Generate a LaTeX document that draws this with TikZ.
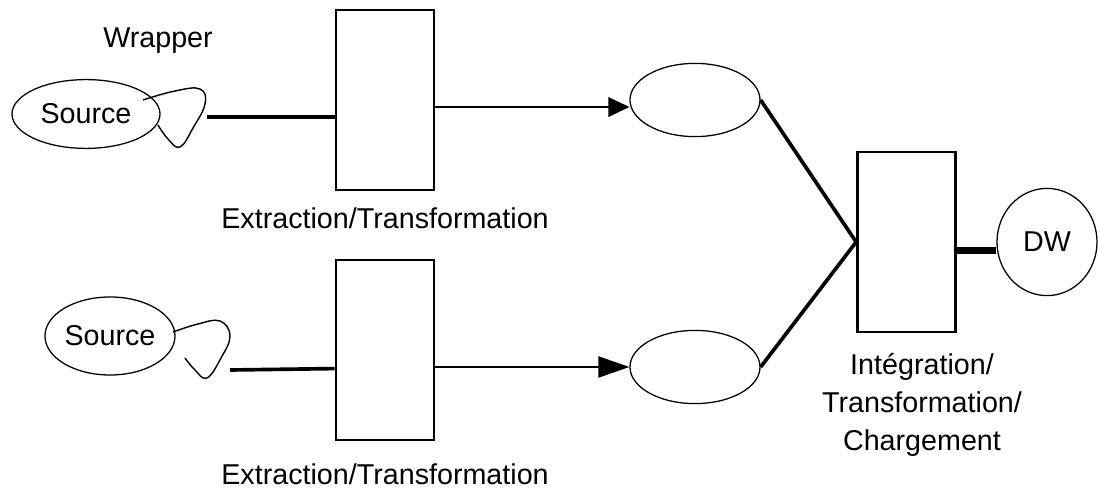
\documentclass[tikz,border=0pt]{standalone}
\usepackage{fontspec}
\setmainfont{Liberation Sans}
\usetikzlibrary{shapes.geometric,arrows.meta}

\tikzset{
	every node/.style={font=\fontsize{20.4}{27}\selectfont},
	etbox/.style={draw,line width=1.9pt,minimum width=2.45cm,minimum height=4.5cm,inner sep=0pt},
	store/.style={draw,ellipse,line width=0.9pt,inner sep=0pt},
	feed/.style={line width=2.6pt},
	flow/.style={line width=1.3pt,-{Triangle[length=15pt,width=14pt]}},
	wrap/.style={line width=1pt,line join=round}
}

\begin{document}
\begin{tikzpicture}[x=0.025cm,y=-0.025cm]
			\useasboundingbox (0,0) rectangle (1098,490);
			% sources and their wrappers
			\node[store,minimum width=3.7cm,minimum height=1.72cm] (src1) at (86,114) {Source};
			\node[store,minimum width=3.25cm,minimum height=1.95cm] (src2) at (110,336) {Source};
			\node (wrp) at (158,41) {Wrapper};
			\draw[wrap] plot[smooth,tension=0.7] coordinates {(143,100) (175,91) (200,89) (205,104) (193,128) (180,147) (168,139) (158,125)};
			\draw[wrap] plot[smooth,tension=0.7] coordinates {(173,332) (198,324) (220,321) (230,336) (221,358) (207,378) (195,370) (185,358)};
			\coordinate (w1) at (207,117);
			\coordinate (w2) at (230,370);
			% extraction boxes
			\node[etbox] (et1) at (385,100) {};
			\node[etbox] (et2) at (385,350) {};
			\node (lbl1) at (385,218) {Extraction/Transformation};
			\node (lbl2) at (385,474) {Extraction/Transformation};
			\draw[feed] (w1) -- (w1 -| et1.west);
			\draw[feed] (w2) -- ([yshift=1pt]w2 -| et2.west);
			% staging areas
			\node[store,minimum width=3.25cm,minimum height=1.83cm] (stg1) at (695,100) {};
			\node[store,minimum width=3.25cm,minimum height=1.83cm] (stg2) at (695,367) {};
			\draw[flow] ([yshift=-5pt]et1.east) -- ([yshift=-5pt]stg1.west);
			\draw[flow,-{Triangle[length=22pt,width=15pt]}] (et2.east |- stg2.west) -- (stg2.west);
			% integration and warehouse
			\node[etbox] (itc) at (906.5,242) {};
			\node[align=center] (lbl3) at (922,405) {Intégration/\\Transformation/\\Chargement};
			\node[draw,ellipse,line width=0.9pt,minimum width=2.5cm,minimum height=2.68cm,inner sep=0pt] (dw) at (1047,242) {DW};
			\draw[feed] (stg1.east) -- (itc.west);
			\draw[feed] (stg2.east) -- (itc.west);
			\draw[line width=5pt] ([yshift=-6pt]itc.east) -- ([yshift=-6pt]dw.west);
		\end{tikzpicture}
\end{document}
